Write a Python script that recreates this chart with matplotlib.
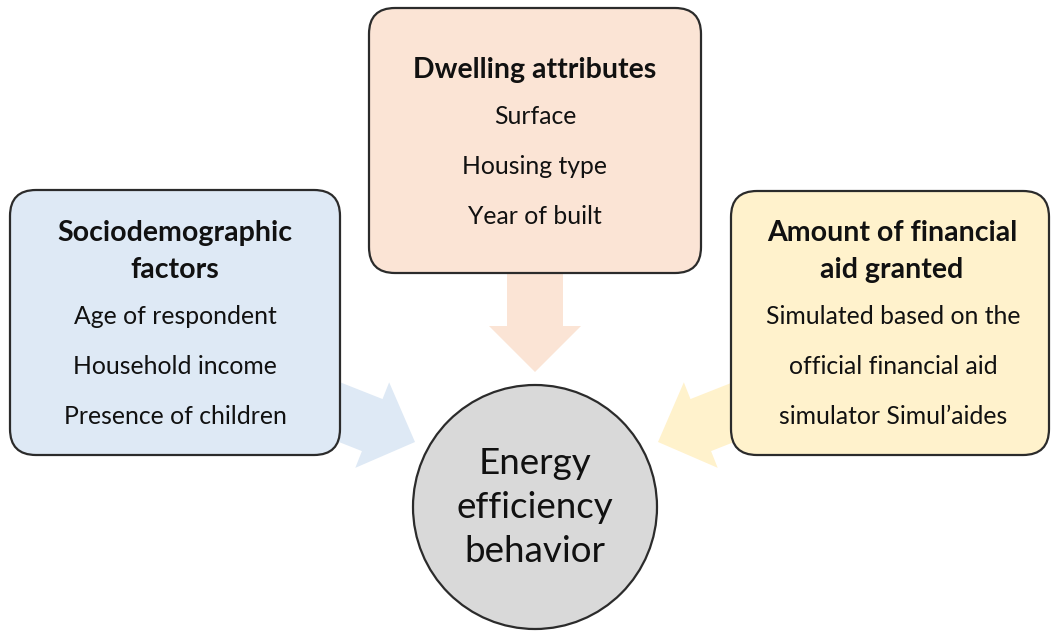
import numpy as np
import matplotlib.pyplot as plt
from matplotlib.patches import FancyBboxPatch, Circle, FancyArrow

plt.rcParams['font.family'] = ['Lato', 'DejaVu Sans']

# box contents
left_title = ["Sociodemographic", "factors"]
left_items = ["Age of respondent", "Household income", "Presence of children"]
mid_title = ["Dwelling attributes"]
mid_items = ["Surface", "Housing type", "Year of built"]
right_title = ["Amount of financial", "aid granted"]
right_items = ["Simulated based on the", "official financial aid", "simulator Simul\u2019aides"]
center_text = ["Energy", "efficiency", "behavior"]

blue = "#dee9f5"
peach = "#fbe4d5"
yellow = "#fff2cc"
grey = "#d9d9d9"
edge = "#2b2b2b"

fig = plt.figure(figsize=(10.51, 6.31), dpi=100)
ax = fig.add_axes([0, 0, 1, 1])
ax.set_xlim(0, 1051)
ax.set_ylim(631, 0)
ax.set_aspect('equal')
ax.axis('off')


def box(x0, y0, x1, y1, color):
    p = FancyBboxPatch((x0, y0), x1 - x0, y1 - y0,
                       boxstyle="round,pad=0,rounding_size=26",
                       fc=color, ec=edge, lw=1.6, zorder=3)
    ax.add_patch(p)


def arrow(tip, direction, length, color):
    d = np.array(direction, dtype=float)
    d = d / np.linalg.norm(d)
    start = np.array(tip) - d * length
    a = FancyArrow(start[0], start[1], d[0] * length, d[1] * length,
                   width=56, head_width=92, head_length=46,
                   length_includes_head=True, fc=color, ec='none', zorder=1)
    ax.add_patch(a)


# arrows (behind boxes)
arrow((535, 372), (0, 1), 110, peach)
arrow((415, 442), (0.93, 0.368), 130, blue)
arrow((658, 442), (-0.93, 0.368), 130, yellow)

box(10, 190, 340, 455, blue)
box(369, 8, 701, 273, peach)
box(731, 191, 1049, 455, yellow)

ax.add_patch(Circle((535, 507), 122, fc=grey, ec=edge, lw=1.6, zorder=3))


def write(lines, x, ys, size, weight='normal'):
    for t, y in zip(lines, ys):
        ax.text(x, y, t, ha='center', va='center', fontsize=size,
                fontweight=weight, color='#111111', zorder=5)


write(left_title, 175, [233, 270], 20.5, 'bold')
write(left_items, 175, [317, 367, 417], 17.8)
write(mid_title, 535, [70], 20.5, 'bold')
write(mid_items, 535, [117, 167, 217], 17.8)
write(right_title, 892, [233, 270], 20.5, 'bold')
write(right_items, 893, [317, 367, 417], 17.8)
write(center_text, 535, [463, 508, 552], 26.5)

fig.savefig("out.png", dpi=100)
